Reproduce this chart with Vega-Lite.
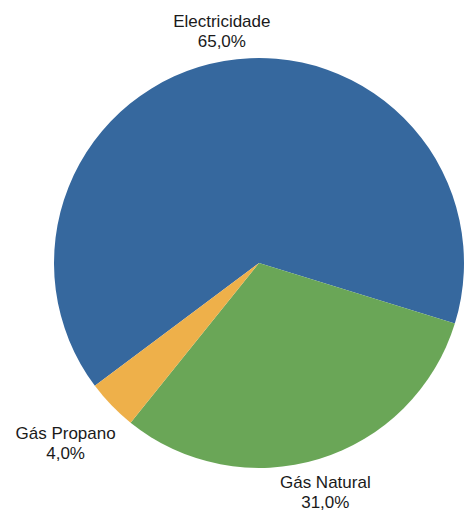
{
  "$schema": "https://vega.github.io/schema/vega-lite/v6.json",
  "width": 418,
  "height": 496,
  "autosize": {"type": "none"},
  "padding": {"left": 50, "top": 15, "right": 0, "bottom": 0},
  "background": "white",
  "data": {
    "values": [
      {"categoria": "Electricidade", "valor": 65.0, "rotulo": "65,0%"},
      {"categoria": "Gás Natural", "valor": 31.0, "rotulo": "31,0%"},
      {"categoria": "Gás Propano", "valor": 4.0, "rotulo": "4,0%"}
    ]
  },
  "transform": [
    {"stack": "valor", "groupby": [], "sort": [{"field": "categoria", "order": "ascending"}], "as": ["v0", "v1"]},
    {"calculate": "(datum.v0 + datum.v1) / 2", "as": "meio"},
    {"calculate": "[datum.categoria, datum.rotulo]", "as": "texto"}
  ],
  "layer": [
    {
      "mark": {"type": "arc", "outerRadius": 205, "stroke": null},
      "encoding": {
        "theta": {"field": "v0", "type": "quantitative", "scale": {"domain": [0, 100], "range": [4.07, 10.353]}},
        "theta2": {"field": "v1"},
        "color": {
          "field": "categoria",
          "type": "nominal",
          "scale": {"domain": ["Electricidade", "Gás Natural", "Gás Propano"], "range": ["#36689E", "#6AA657", "#EEB04A"]},
          "legend": null
        }
      }
    },
    {
      "transform": [{"filter": "datum.categoria == 'Electricidade'"}],
      "mark": {"type": "text", "radius": 230, "dx": 2, "dy": -14, "font": "Liberation Sans", "fontSize": 17, "lineHeight": 20, "align": "center", "baseline": "middle", "color": "#1a1a1a"},
      "encoding": {"theta": {"field": "meio", "type": "quantitative"}, "text": {"field": "texto"}}
    },
    {
      "transform": [{"filter": "datum.categoria == 'Gás Natural'"}],
      "mark": {"type": "text", "radius": 230, "dx": -1, "dy": 0, "font": "Liberation Sans", "fontSize": 17, "lineHeight": 20, "align": "center", "baseline": "middle", "color": "#1a1a1a"},
      "encoding": {"theta": {"field": "meio", "type": "quantitative"}, "text": {"field": "texto"}}
    },
    {
      "transform": [{"filter": "datum.categoria == 'Gás Propano'"}],
      "mark": {"type": "text", "radius": 230, "dx": -28, "dy": 11, "font": "Liberation Sans", "fontSize": 17, "lineHeight": 20, "align": "center", "baseline": "middle", "color": "#1a1a1a"},
      "encoding": {"theta": {"field": "meio", "type": "quantitative"}, "text": {"field": "texto"}}
    }
  ]
}
